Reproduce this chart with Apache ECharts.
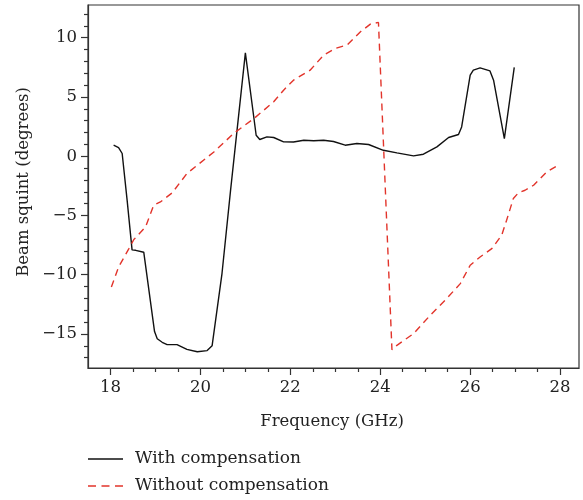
<!DOCTYPE html>
<html>
<head>
<meta charset="utf-8">
<script src="https://cdn.jsdelivr.net/npm/echarts@6/dist/echarts.min.js"></script>
<style>html,body{margin:0;padding:0;background:#fff}#c{width:583px;height:500px}</style>
</head>
<body>
<div id="c"></div>
<script>
// Data
const withFreq = [18.07,18.18,18.26,18.37,18.48,18.56,18.74,18.98,19.04,19.15,19.26,19.48,19.7,19.93,20.15,20.26,20.48,20.67,21.0,21.24,21.32,21.48,21.63,21.85,22.07,22.3,22.52,22.74,22.96,23.22,23.48,23.74,24.07,24.37,24.74,24.96,25.26,25.52,25.74,25.81,26.0,26.07,26.22,26.44,26.52,26.76,26.98];
const withVal  = [0.93,0.73,0.23,-3.7,-7.9,-7.94,-8.1,-14.8,-15.4,-15.7,-15.9,-15.9,-16.3,-16.5,-16.4,-16.0,-9.9,-2.9,8.72,1.77,1.41,1.63,1.58,1.21,1.2,1.35,1.3,1.35,1.24,0.93,1.07,0.99,0.5,0.28,0.03,0.17,0.79,1.58,1.83,2.47,6.84,7.26,7.46,7.2,6.42,1.49,7.49];
const withoutFreq = [18.02,18.18,18.41,18.52,18.78,18.96,19.11,19.37,19.7,20.3,20.74,21.19,21.63,21.85,22.07,22.44,22.74,23.0,23.26,23.56,23.78,23.96,24.0,24.26,24.37,24.74,25.11,25.48,25.78,26.0,26.22,26.48,26.7,26.81,26.96,27.07,27.22,27.41,27.7,27.93];
const withoutVal  = [-11.04,-9.35,-7.8,-7.03,-5.97,-4.14,-3.86,-3.1,-1.46,0.36,1.92,3.18,4.59,5.57,6.42,7.26,8.53,9.1,9.38,10.5,11.15,11.29,11.2,-16.33,-15.96,-14.97,-13.43,-12.0,-10.75,-9.2,-8.5,-7.8,-6.67,-5.4,-3.57,-3.1,-2.87,-2.45,-1.33,-0.82];
const xMajorTicks = [18,20,22,24,26,28];
const xMinorTicks = [18.5,19,19.5,20.5,21,21.5,22.5,23,23.5,24.5,25,25.5,26.5,27,27.5];
const yMajorTicks = [-15,-10,-5,0,5,10];
const yMinorTicks = [-17,-16,-14,-13,-12,-11,-9,-8,-7,-6,-4,-3,-2,-1,1,2,3,4,6,7,8,9,11,12];
const seriesNames = ['With compensation','Without compensation'];
const xTitle = 'Frequency (GHz)';
const yTitle = 'Beam squint (degrees)';

const FONT = 'DejaVu Serif';
const FS = 16.5;
const AX = '#333';
const TXT = '#222';
const RED = '#e2342b';
const xMin = 17.5, xMax = 28.42, yMin = -17.87, yMax = 12.76;
const fmt = v => String(v).replace('-', '\u2212');
const font = FS + 'px "' + FONT + '"';
const legFont = '17px "' + FONT + '"';

const chart = echarts.init(document.getElementById('c'), null, {renderer:'canvas'});
chart.setOption({
  animation:false,
  backgroundColor:'#fff',
  grid:{left:88, top:5, width:491, height:363, show:true, borderColor:AX, borderWidth:1.2, backgroundColor:'transparent'},
  xAxis:[
    {type:'value', min:xMin, max:xMax, position:'bottom',
     axisLine:{show:true, onZero:false, lineStyle:{color:AX, width:1.2}},
     axisTick:{show:true, length:7, lineStyle:{color:AX, width:1.2}, customValues:xMajorTicks},
     axisLabel:{show:true, customValues:xMajorTicks, formatter:fmt, fontFamily:FONT, fontSize:FS, color:TXT, margin:11},
     splitLine:{show:false}},
    {type:'value', min:xMin, max:xMax, position:'bottom',
     axisLine:{show:false, onZero:false},
     axisTick:{show:true, length:4, lineStyle:{color:AX, width:1.2}, customValues:xMinorTicks},
     axisLabel:{show:false}, splitLine:{show:false}}
  ],
  yAxis:[
    {type:'value', min:yMin, max:yMax, position:'left',
     axisLine:{show:true, onZero:false, lineStyle:{color:AX, width:1.2}},
     axisTick:{show:true, length:7, lineStyle:{color:AX, width:1.2}, customValues:yMajorTicks},
     axisLabel:{show:true, customValues:yMajorTicks, formatter:fmt, fontFamily:FONT, fontSize:FS, color:TXT, margin:11},
     splitLine:{show:false}},
    {type:'value', min:yMin, max:yMax, position:'left',
     axisLine:{show:false, onZero:false},
     axisTick:{show:true, length:4, lineStyle:{color:AX, width:1.2}, customValues:yMinorTicks},
     axisLabel:{show:false}, splitLine:{show:false}}
  ],
  graphic:[
    {type:'text', x:332, y:422, style:{text:xTitle, font:font, fill:TXT, textAlign:'center', textVerticalAlign:'middle'}},
    {type:'text', x:24, y:182, rotation:Math.PI/2, style:{text:yTitle, font:font, fill:TXT, textAlign:'center', textVerticalAlign:'middle'}},
    {type:'line', shape:{x1:88, y1:459, x2:123, y2:459}, style:{stroke:'#111', lineWidth:1.3}},
    {type:'text', x:135, y:459, style:{text:seriesNames[0], font:legFont, fill:TXT, textAlign:'left', textVerticalAlign:'middle'}},
    {type:'line', shape:{x1:88, y1:486, x2:123, y2:486}, style:{stroke:RED, lineWidth:1.3, lineDash:[8,5.5]}},
    {type:'text', x:135, y:486, style:{text:seriesNames[1], font:legFont, fill:TXT, textAlign:'left', textVerticalAlign:'middle'}}
  ],
  series:[
    {name:seriesNames[0], type:'line', xAxisIndex:0, yAxisIndex:0, symbol:'none', showSymbol:false,
     lineStyle:{color:'#111', width:1.4}, itemStyle:{color:'#111'},
     data:withFreq.map((f,i)=>[f, withVal[i]])},
    {name:seriesNames[1], type:'line', xAxisIndex:0, yAxisIndex:0, symbol:'none', showSymbol:false,
     lineStyle:{color:RED, width:1.4, type:[7,5]}, itemStyle:{color:RED},
     data:withoutFreq.map((f,i)=>[f, withoutVal[i]])}
  ]
});
</script>
</body>
</html>
